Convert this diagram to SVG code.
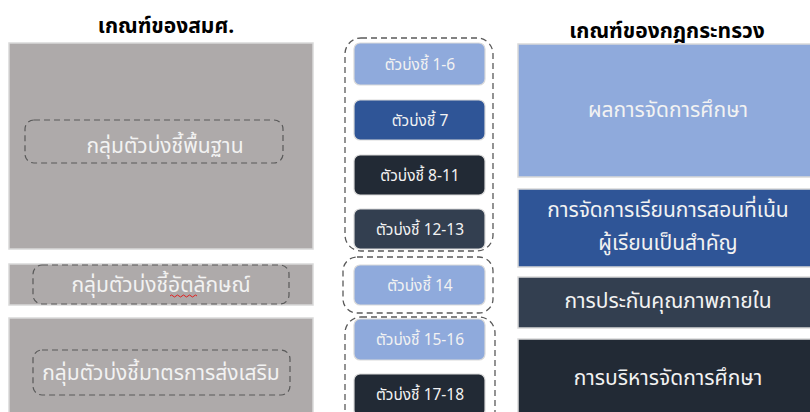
<svg xmlns="http://www.w3.org/2000/svg" width="810" height="412" viewBox="0 0 810 412">
<style>
.t{font-family:"Noto Sans Thai","Tahoma","DejaVu Sans","Liberation Sans",sans-serif;text-anchor:middle}
.title{font-size:21px;font-weight:bold;fill:#000}
.big{font-size:21px;fill:#F2F2F2}
.mid{font-size:15.5px;fill:#F2F2F2}
.rt{font-size:21px;fill:#F2F2F2}
.gray{fill:#AEAAAA;stroke:#D9D9D9;stroke-width:1.5}
.grp{fill:none;stroke:#595959;stroke-width:1.3;stroke-dasharray:6 4}
.lbl{fill:none;stroke:#595959;stroke-width:1.2;stroke-dasharray:6 4}
.bx{stroke:#D9D9D9;stroke-width:1.2}
.rb{stroke:#D9D9D9;stroke-width:1.5}
</style>
<rect width="810" height="412" fill="#FFFFFF"/>
<text class="t title" x="166" y="33">เกณฑ์ของสมศ.</text>
<text class="t title" x="667" y="38">เกณฑ์ของกฎกระทรวง</text>

<g id="left-basic">
<rect class="gray" x="9" y="43" width="304" height="206"/>
<rect class="lbl" x="25" y="120" width="258" height="43" rx="9"/>
<text class="t big" x="165" y="153">กลุ่มตัวบ่งชี้พื้นฐาน</text>
</g>
<g id="left-identity">
<rect class="gray" x="9" y="264" width="304" height="41"/>
<rect class="lbl" x="33" y="265" width="256" height="39" rx="9"/>
<text class="t big" x="161" y="292">กลุ่มตัวบ่งชี้อัตลักษณ์</text>
<path d="M170 296 q1.5 -2 3 0 t3 0 t3 0 t3 0 t3 0 t3 0 t3 0 t3 0 t3 0" fill="none" stroke="#E02020" stroke-width="1"/>
</g>
<g id="left-promote">
<rect class="gray" x="9" y="318" width="304" height="100"/>
<rect class="lbl" x="33" y="350" width="257" height="45" rx="9"/>
<text class="t big" x="161" y="380">กลุ่มตัวบ่งชี้มาตรการส่งเสริม</text>
</g>

<g id="groups">
<rect class="grp" x="345" y="38" width="148" height="213" rx="16"/>
<rect class="grp" x="343" y="257" width="150" height="56" rx="14"/>
<rect class="grp" x="345" y="317" width="150" height="110" rx="16"/>
</g>

<g id="ind-1-6"><rect class="bx" x="354" y="43" width="131" height="42" rx="6" fill="#8FAADC"/><text class="t mid" x="420" y="70">ตัวบ่งชี้ 1-6</text></g>
<g id="ind-7"><rect class="bx" x="354" y="100" width="131" height="40" rx="6" fill="#2F5597"/><text class="t mid" x="420" y="126">ตัวบ่งชี้ 7</text></g>
<g id="ind-8-11"><rect class="bx" x="354" y="155" width="131" height="40" rx="6" fill="#222A35"/><text class="t mid" x="420" y="181">ตัวบ่งชี้ 8-11</text></g>
<g id="ind-12-13"><rect class="bx" x="354" y="209" width="131" height="40" rx="6" fill="#333F50"/><text class="t mid" x="420" y="235">ตัวบ่งชี้ 12-13</text></g>
<g id="ind-14"><rect class="bx" x="354" y="265" width="131" height="40" rx="6" fill="#8FAADC"/><text class="t mid" x="420" y="291">ตัวบ่งชี้ 14</text></g>
<g id="ind-15-16"><rect class="bx" x="354" y="319" width="131" height="41" rx="6" fill="#8FAADC"/><text class="t mid" x="420" y="345">ตัวบ่งชี้ 15-16</text></g>
<g id="ind-17-18"><rect class="bx" x="354" y="374" width="131" height="42" rx="6" fill="#222A35"/><text class="t mid" x="420" y="400">ตัวบ่งชี้ 17-18</text></g>

<g id="r-result"><rect class="rb" x="518" y="44" width="300" height="133" fill="#8FAADC"/><text class="t rt" x="668" y="117">ผลการจัดการศึกษา</text></g>
<g id="r-learning"><rect class="rb" x="518" y="189" width="300" height="78" fill="#2F5597"/><text class="t rt" x="668" y="217">การจัดการเรียนการสอนที่เน้น</text><text class="t rt" x="668" y="250">ผู้เรียนเป็นสำคัญ</text></g>
<g id="r-qa"><rect class="rb" x="518" y="277" width="300" height="51" fill="#333F50"/><text class="t rt" x="668" y="308">การประกันคุณภาพภายใน</text></g>
<g id="r-admin"><rect class="rb" x="518" y="339" width="300" height="80" fill="#222A35"/><text class="t rt" x="668" y="385">การบริหารจัดการศึกษา</text></g>
</svg>
